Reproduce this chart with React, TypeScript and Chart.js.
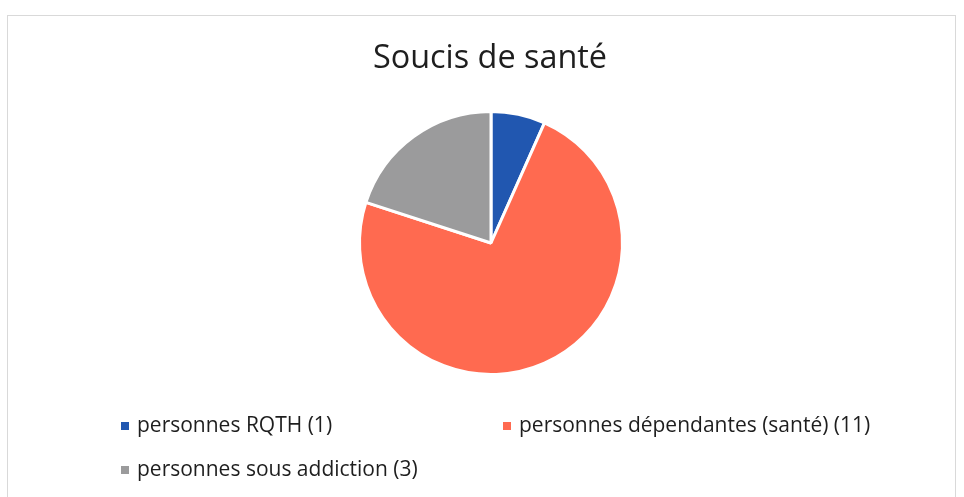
import React, { useEffect, useRef } from "react";
import { Chart, registerables } from "chart.js";

Chart.register(...registerables);

const title = "Soucis de santé";
const labels = [
  "personnes RQTH (1)",
  "personnes dépendantes (santé) (11)",
  "personnes sous addiction (3)",
];
const values = [1, 11, 3];
const colors = ["#2157B0", "#FF6A50", "#9B9B9C"];

const FONT = "'Open Sans', 'DejaVu Sans', sans-serif";

const decorPlugin = {
  id: "decor",
  beforeDraw(chart: any) {
    const ctx = chart.ctx;
    ctx.save();
    ctx.fillStyle = "#ffffff";
    ctx.fillRect(0, 0, chart.width, chart.height);
    ctx.strokeStyle = "#d9d9d9";
    ctx.lineWidth = 1;
    ctx.strokeRect(7.5, 15.5, 948, 500);
    ctx.restore();
  },
  afterDraw(chart: any) {
    const ctx = chart.ctx;
    ctx.save();
    ctx.fillStyle = "#1e1e1e";
    ctx.font = `32.4px ${FONT}`;
    ctx.textAlign = "center";
    ctx.textBaseline = "alphabetic";
    ctx.fillText(title, 490, 68);

    const items = [
      { x: 121, y: 426 },
      { x: 503, y: 426 },
      { x: 121, y: 470 },
    ];
    ctx.font = `21px ${FONT}`;
    ctx.textAlign = "left";
    ctx.textBaseline = "middle";
    const ds = chart.data.datasets[0];
    chart.data.labels.forEach((lab: string, i: number) => {
      const it = items[i];
      ctx.fillStyle = ds.backgroundColor[i];
      ctx.fillRect(it.x, it.y - 4, 8, 8);
      ctx.fillStyle = "#1e1e1e";
      ctx.fillText(lab, it.x + 16, it.y);
    });
    ctx.restore();
  },
};

export default function App() {
  const ref = useRef<HTMLCanvasElement>(null);
  useEffect(() => {
    if (!ref.current) return;
    const chart = new Chart(ref.current, {
      type: "pie",
      data: {
        labels,
        datasets: [
          {
            data: values,
            backgroundColor: colors,
            borderColor: "#ffffff",
            borderWidth: 3,
          },
        ],
      },
      options: {
        animation: false,
        responsive: false,
        maintainAspectRatio: false,
        layout: { padding: { left: 358, right: 340, top: 110, bottom: 121 } },
        plugins: {
          legend: { display: false },
          title: { display: false },
          tooltip: { enabled: false },
        },
      },
      plugins: [decorPlugin],
    });
    return () => chart.destroy();
  }, []);
  return (
    <div style={{ position: "fixed", left: 0, top: 0, width: 964, height: 497, background: "#fff" }}>
      <canvas ref={ref} width={964} height={497} style={{ display: "block" }} />
    </div>
  );
}
